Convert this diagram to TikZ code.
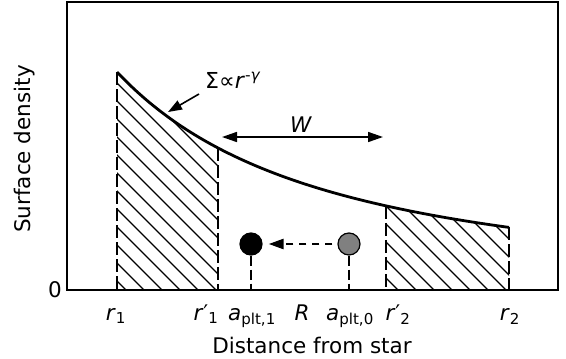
\documentclass[tikz,border=0pt]{standalone}
\usepackage{fontspec}
\setmainfont{DejaVu Sans}
\usetikzlibrary{arrows.meta}
\tikzset{mytip/.tip={Triangle[length=15pt,width=10pt]}}
\begin{document}
\begin{tikzpicture}[x=1pt,y=-1pt,
  declare function={sig(\x)=290-218*((\x+200)/317)^(-1.55);},
  lbl/.style={font=\fontsize{21.5}{26}\selectfont, inner sep=0pt},
  sublbl/.style={font=\fontsize{22}{26}\selectfont, inner sep=0pt},
  vdash/.style={line width=2.4pt, dash pattern=on 13pt off 4pt},
  hatch/.style={line width=1.2pt},
  thinarrow/.style={line width=1.6pt}]
\useasboundingbox (0,0) rectangle (566,359);

% curve points
\coordinate (t1) at (117,{sig(117)});
\coordinate (t1p) at (218,{sig(218)});
\coordinate (t2p) at (386,{sig(386)});
\coordinate (t2) at (509,{sig(509)});
\coordinate (b1) at (117,290);
\coordinate (b1p) at (218,290);
\coordinate (b2p) at (386,290);
\coordinate (b2) at (509,290);
\coordinate (ba1) at (251,290);
\coordinate (ba0) at (349,290);

% hatching
\begin{scope}
  \clip (b1) -- plot[domain=117:218,samples=50] (\x,{sig(\x)}) -- (b1p) -- cycle;
  \foreach \c in {-160,-142,...,240} \draw[hatch] (\c,40) -- (\c+260,300);
\end{scope}
\begin{scope}
  \clip (b2p) -- plot[domain=386:509,samples=50] (\x,{sig(\x)}) -- (b2) -- cycle;
  \foreach \c in {150,168,...,520} \draw[hatch] (\c,150) -- (\c+160,310);
\end{scope}

% frame
\draw[line width=1.8pt] (67,2) rectangle (558,290);

% curve
\draw[line width=2.8pt] plot[domain=117:509,samples=120] (\x,{sig(\x)});

% vertical dashed lines
\draw[vdash] (t1) -- (b1);
\draw[vdash] (t1p) -- (b1p);
\draw[vdash] (t2p) -- (b2p);
\draw[vdash] (t2) -- (b2);

% planets
\node[circle, fill=black, draw=black, line width=1.2pt, minimum size=22pt, inner sep=0pt] (d1) at (251,244) {};
\node[circle, fill=black!50, draw=black, line width=1.2pt, minimum size=22pt, inner sep=0pt] (d0) at (349,244) {};
\draw[vdash, dash pattern=on 10pt off 4pt] (d1.south) -- (ba1);
\draw[vdash, dash pattern=on 10pt off 4pt] (d0.south) -- (ba0);
\draw[line width=2.4pt, dash pattern=on 7pt off 6pt, -{mytip}] ([xshift=-5pt]d0.west) -- ([xshift=6pt]d1.east);

% W arrow
\coordinate (wl) at (222,137);
\coordinate (wr) at (383,137);
\draw[thinarrow, {mytip}-{mytip}] (wl) -- (wr);
\node[lbl, anchor=base] (W) at (301,132) {\textit{W}};

% Sigma label
\node[sublbl, anchor=base west] (S) at (205,88) {Σ∝\textit{r}\textsuperscript{-\textit{γ}}};
\coordinate (sa) at (199,94);
\coordinate (sb) at (168,112);
\draw[thinarrow, -{Triangle[length=14pt,width=10pt]}] (sa) -- (sb);

% axis labels
\node[lbl] (zero) at (55,290) {0};
\node[lbl, rotate=90] (ylab) at (25,149) {Surface density};
\node[lbl] (xlab) at (312,345) {Distance from star};

\node[lbl, anchor=base] (lr1) at (116,320) {\textit{r}\textsubscript{1}};
\node[lbl, anchor=base] (lr1p) at (206,320) {\textit{r}′\textsubscript{1}};
\node[lbl, anchor=base] (la1) at (252,320) {\textit{a}\textsubscript{plt,1}};
\node[lbl, anchor=base] (lR) at (302,320) {\textit{R}};
\node[lbl, anchor=base] (la0) at (350,320) {\textit{a}\textsubscript{plt,0}};
\node[lbl, anchor=base] (lr2p) at (398,320) {\textit{r}′\textsubscript{2}};
\node[lbl, anchor=base] (lr2) at (510,320) {\textit{r}\textsubscript{2}};
\end{tikzpicture}
\end{document}
